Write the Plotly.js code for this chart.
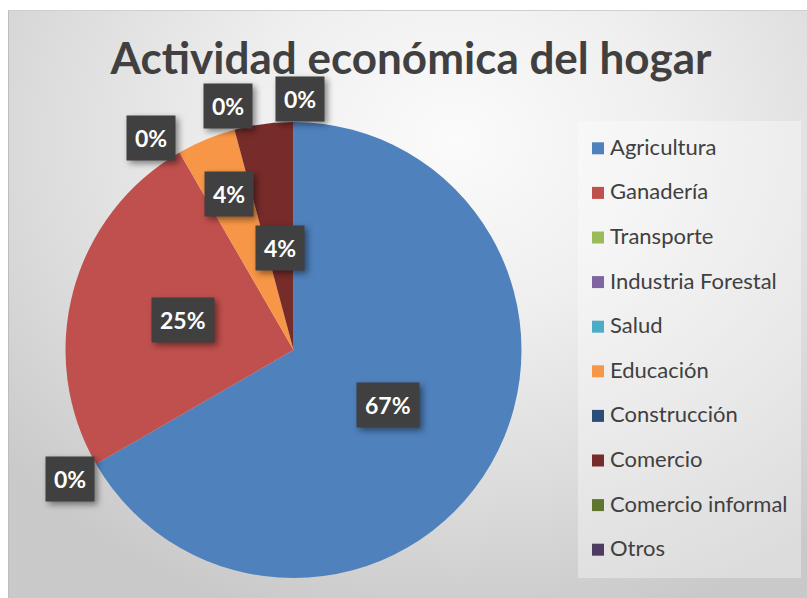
<!DOCTYPE html>
<html>
<head>
<meta charset="utf-8">
<script src="https://cdn.plot.ly/plotly-3.0.1.min.js"></script>
<style>
  html, body { margin: 0; padding: 0; background: #ffffff; }
  #wrap { position: relative; width: 807px; height: 598px; overflow: hidden; }
  #bg { position: absolute; left: 8px; top: 10px; right: 0; bottom: 0;
        background: radial-gradient(ellipse 75% 85% at 56% 22%, #fbfbfb 0%, #efefef 35%, #dcdcdc 70%, #c9c9c9 100%);
        border-left: 1px solid #bdbdbd; border-top: 1px solid #cfcfcf; }
  #chart { position: absolute; left: 0; top: 0; width: 807px; height: 598px; }
  .annotation rect.bg { filter: drop-shadow(3px 3px 3px rgba(0,0,0,0.45)); }
  .legendtext { transform: translate(-8px, -6px); }
</style>
</head>
<body>
<div id="wrap"><div id="bg"></div><div id="chart"></div></div>
<script>
// ---- data ----
const categories = ['Agricultura', 'Ganadería', 'Transporte', 'Industria Forestal', 'Salud',
                    'Educación', 'Construcción', 'Comercio', 'Comercio informal', 'Otros'];
const values = [16, 6, 0, 0, 0, 1, 0, 1, 0, 0];
const colors = ['#4F81BD', '#C0504D', '#9BBB59', '#8064A2', '#4BACC6',
                '#F79646', '#2C4D75', '#772C2A', '#5F7530', '#4D3B62'];
const titleText = 'Actividad económica del hogar';

// ---- layout constants ----
const W = 807, H = 598;
const pieCx = 293.5, pieCy = 350, pieR = 228;
// label placement (Excel best-fit), radius as fraction of pie radius, angle nudge in degrees
const labelRadius = [0.48, 0.5, 1.13, 1.12, 1.12, 0.74, 1.11, 0.45, 1.10, 1.10];
const labelNudge = [0, 0, 0, -4, -4, 0, 0, 0, 1.5, 1.5];
const labelAnchor = ['mid', 'mid', 'prevstart', 'start', 'start', 'mid', 'start', 'mid', 'start', 'start'];

const total = values.reduce((a, b) => a + b, 0);
const starts = [];
let acc = 0;
values.forEach(v => { starts.push(acc); acc += v; });

const annotations = [];
const seen = new Set();
values.forEach((v, i) => {
  let frac;
  if (labelAnchor[i] === 'mid') frac = (starts[i] + v / 2) / total;
  else if (labelAnchor[i] === 'prevstart') frac = starts[i - 1] / total;
  else frac = starts[i] / total;
  const key = frac.toFixed(4);
  if (v === 0 && seen.has(key)) return;
  seen.add(key);
  const a = frac * 2 * Math.PI + labelNudge[i] * Math.PI / 180;
  const px = pieCx + pieR * labelRadius[i] * Math.sin(a);
  const py = pieCy - pieR * labelRadius[i] * Math.cos(a);
  annotations.push({
    x: px / W, y: 1 - py / H, xref: 'paper', yref: 'paper',
    xanchor: 'center', yanchor: 'middle', showarrow: false,
    text: Math.round(v / total * 100) + '%',
    font: { family: 'Lato, sans-serif', size: 23, color: '#ffffff', weight: 'bold' },
    bgcolor: '#404040', borderpad: 8
  });
});

const trace = {
  type: 'pie',
  labels: categories.map(c => '<span style="font-size:22px">' + c + '</span>'),
  values: values,
  sort: false,
  direction: 'clockwise',
  rotation: 0,
  textinfo: 'none',
  hoverinfo: 'percent',
  marker: { colors: colors, line: { width: 0 } },
  domain: { x: [(pieCx - pieR) / W, (pieCx + pieR) / W], y: [(H - pieCy - pieR) / H, (H - pieCy + pieR) / H] }
};

const layout = {
  width: W, height: H,
  margin: { l: 0, r: 0, t: 0, b: 0 },
  paper_bgcolor: 'rgba(0,0,0,0)',
  plot_bgcolor: 'rgba(0,0,0,0)',
  title: {
    text: titleText, x: 411 / W, xanchor: 'center', y: 1 - 59 / H, yanchor: 'middle', yref: 'container',
    font: { family: 'Lato, sans-serif', size: 44, color: '#404040', weight: 'bold' }
  },
  showlegend: true,
  legend: {
    x: 578 / W, xanchor: 'left', y: 1 - 121 / H, yanchor: 'top',
    bgcolor: 'rgba(255,255,255,0.35)', borderwidth: 0,
    font: { family: 'Lato, sans-serif', size: 32, color: '#404040' }
  },
  annotations: annotations
};

Plotly.newPlot('chart', [trace], layout, { displayModeBar: false, staticPlot: true });
</script>
</body>
</html>
